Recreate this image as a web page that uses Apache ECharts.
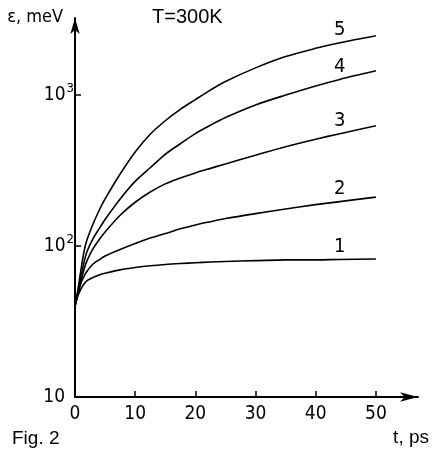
<!DOCTYPE html>
<html>
<head>
<meta charset="utf-8">
<script src="https://cdn.jsdelivr.net/npm/echarts@6/dist/echarts.min.js"></script>
<style>html,body{margin:0;padding:0;background:#fff}#c{width:432px;height:449px}</style>
</head>
<body>
<div id="c"></div>
<script>
// time samples, ps
const times  = [0, 0.5, 1, 1.5, 2, 3, 4, 5, 7.5, 10, 12.5, 15, 17.5, 20, 22.5, 25, 30, 35, 40, 44, 50];
// energy, meV
const curve1 = [40, 47, 52, 56, 59, 62, 64.3, 66, 69.5, 72, 74, 75.5, 76.6, 77.5, 78.3, 79, 80, 81, 81, 81.5, 82];
const curve2 = [40, 48, 57, 63, 68, 76, 81, 86, 95, 104, 113, 121, 130, 138, 145, 152, 164, 176, 188, 197, 211];
const curve3 = [40, 49, 59, 70, 80, 96, 110, 124, 160, 195, 228, 258, 282, 305, 327, 350, 400, 455, 510, 555, 626];
const curve4 = [40, 50, 63, 78, 92, 112, 130, 150, 205, 268, 330, 405, 476, 555, 631, 710, 860, 1000, 1150, 1270, 1448];
const curve5 = [40, 52, 70, 92, 110, 140, 172, 205, 300, 420, 550, 676, 804, 933, 1079, 1230, 1514, 1800, 2040, 2220, 2470];
const curveNames = ['1', '2', '3', '4', '5'];
const labelTime = 44;
const xTicks = [10, 20, 30, 40, 50];
const xLabels = [0, 10, 20, 30, 40, 50];
const yTicks = [100, 1000];
const yLabels = [10, 100, 1000];

const FN = "'Liberation Sans Narrow','DejaVu Sans Condensed','Liberation Sans',sans-serif";
const FW = "'Liberation Sans','DejaVu Sans',sans-serif";
const curves = [curve1, curve2, curve3, curve4, curve5];

const series = curves.map((vals, k) => ({
  type: 'line',
  smooth: 0.3,
  showSymbol: true,
  symbol: 'circle',
  symbolSize: 0.1,
  itemStyle: {color: 'rgba(0,0,0,0)'},
  lineStyle: {color: '#000', width: 1.6},
  silent: true,
  data: times.map((t, i) => {
    const item = {value: [t, vals[i]]};
    if (t === labelTime) {
      item.label = {show: true, position: 'top', distance: 3, formatter: curveNames[k],
        color: '#000', fontSize: 20, fontFamily: FN};
    }
    return item;
  })
}));

const chart = echarts.init(document.getElementById('c'), null, {renderer: 'canvas'});
chart.setOption({
  animation: false,
  backgroundColor: '#fff',
  title: [
    {text: 'T=300K', left: 152, top: 7, padding: 0,
     textStyle: {fontSize: 20, fontWeight: 'normal', color: '#000', fontFamily: FW}},
    {text: 'Fig. 2', left: 12, top: 429, padding: 0,
     textStyle: {fontSize: 19, fontWeight: 'normal', color: '#000', fontFamily: FW}}
  ],
  grid: {left: 75, right: 13, top: 18, bottom: 52, containLabel: false},
  xAxis: {
    type: 'value', min: 0, max: 57,
    name: 't, ps', nameLocation: 'end', nameGap: 11,
    nameTextStyle: {fontSize: 19, color: '#000', fontFamily: FW, align: 'right', verticalAlign: 'top', padding: [31, 0, 0, 0]},
    axisLine: {show: true, lineStyle: {color: '#000', width: 2}, symbol: ['none', 'arrow'], symbolSize: [7, 18]},
    axisTick: {show: true, inside: true, length: 6, lineStyle: {color: '#000', width: 1.5}, customValues: xTicks},
    axisLabel: {show: true, margin: 8, fontSize: 19, color: '#000', fontFamily: FN, customValues: xLabels},
    splitLine: {show: false}
  },
  yAxis: {
    type: 'log', logBase: 10, min: 10, max: 3240,
    name: 'ε, meV', nameLocation: 'end', nameGap: 1,
    nameTextStyle: {fontSize: 18, color: '#000', fontFamily: FN, align: 'right', verticalAlign: 'middle', padding: [0, 12, 0, 0]},
    axisLine: {show: true, lineStyle: {color: '#000', width: 2}, symbol: ['none', 'arrow'], symbolSize: [7, 16]},
    axisTick: {show: true, inside: true, length: 6, lineStyle: {color: '#000', width: 1.5}, customValues: yTicks},
    axisLabel: {
      show: true, margin: 1, fontSize: 19, color: '#000', fontFamily: FN, customValues: yLabels,
      formatter: v => {
        const e = Math.round(Math.log10(v));
        return e === 1 ? '{p|10}' : '{m|10}{s|' + e + '}';
      },
      rich: {
        p: {fontSize: 19, fontFamily: FN, color: '#000', padding: [0, 9, 0, 0]},
        m: {fontSize: 19, fontFamily: FN, color: '#000', lineHeight: 19, verticalAlign: 'bottom'},
        s: {fontSize: 13, fontFamily: FN, color: '#000', lineHeight: 13, verticalAlign: 'bottom', padding: [0, 0, 9, 1]}
      }
    },
    splitLine: {show: false}
  },
  series: series
});
</script>
</body>
</html>
